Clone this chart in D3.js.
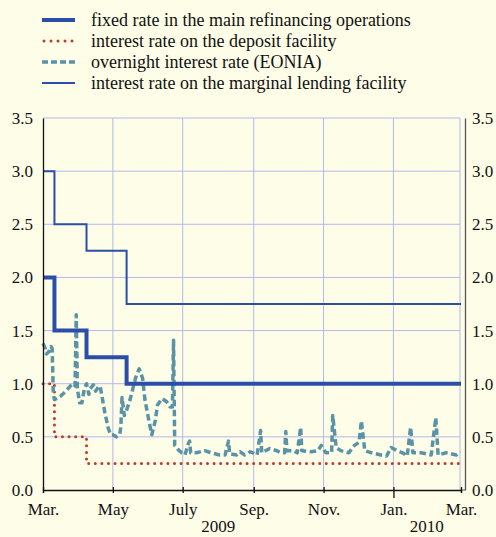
<!DOCTYPE html>
<html>
<head>
<meta charset="utf-8">
<script src="https://cdn.jsdelivr.net/npm/d3@7"></script>
</head>
<body style="margin:0;background:#fefde8">
<svg id="chart" width="496" height="537" style="display:block"></svg>
<script>
// ---------- data ----------
const seriesNames = [
  "fixed rate in the main refinancing operations",
  "interest rate on the deposit facility",
  "overnight interest rate (EONIA)",
  "interest rate on the marginal lending facility"
];

// policy-rate step changes (value holds from date until next date)
const stepDates = ["2009-03-01", "2009-03-11", "2009-04-08", "2009-05-13", "2010-03-01"];
const mroRates      = [2.00, 1.50, 1.25, 1.00, 1.00];
const depositRates  = [1.00, 0.50, 0.25, 0.25, 0.25];
const lendingRates  = [3.00, 2.50, 2.25, 1.75, 1.75];

// EONIA
const eoniaDates = [
  "2009-03-01","2009-03-03","2009-03-04","2009-03-06","2009-03-08","2009-03-09","2009-03-10","2009-03-11",
  "2009-03-16","2009-03-21","2009-03-25","2009-03-28","2009-03-29","2009-03-30","2009-03-31","2009-04-02",
  "2009-04-04","2009-04-06","2009-04-08","2009-04-10","2009-04-11","2009-04-14","2009-04-16","2009-04-19",
  "2009-04-20","2009-04-22","2009-04-24","2009-04-27","2009-04-29","2009-05-01","2009-05-04","2009-05-07",
  "2009-05-08","2009-05-09","2009-05-11","2009-05-13","2009-05-16","2009-05-21","2009-05-24","2009-05-27",
  "2009-05-29","2009-06-01","2009-06-04","2009-06-07","2009-06-09","2009-06-13","2009-06-17","2009-06-20",
  "2009-06-22","2009-06-23","2009-06-24","2009-06-27","2009-06-30","2009-07-03","2009-07-06","2009-07-07",
  "2009-07-08","2009-07-13","2009-07-20","2009-07-26","2009-08-02","2009-08-07","2009-08-10","2009-08-11",
  "2009-08-17","2009-08-20","2009-08-24","2009-08-29","2009-09-04","2009-09-07","2009-09-08","2009-09-15",
  "2009-09-21","2009-09-25","2009-09-28","2009-09-29","2009-09-30","2009-10-06","2009-10-09","2009-10-12",
  "2009-10-13","2009-10-21","2009-10-27","2009-10-30","2009-11-03","2009-11-08","2009-11-09","2009-11-12",
  "2009-11-16","2009-11-23","2009-11-28","2009-12-02","2009-12-04","2009-12-07","2009-12-13","2009-12-21",
  "2009-12-26","2009-12-30","2010-01-04","2010-01-09","2010-01-13","2010-01-16","2010-01-18","2010-01-25",
  "2010-02-03","2010-02-07","2010-02-09","2010-02-16","2010-02-25","2010-02-28"
];
const eoniaValues = [
  1.38,1.33,1.28,1.30,1.35,1.33,0.90,0.85,
  0.88,0.93,0.98,1.00,0.98,1.65,0.95,0.82,
  0.82,0.95,1.00,0.90,0.95,0.99,0.93,0.98,
  0.97,0.85,0.73,0.58,0.52,0.52,0.50,0.52,
  0.60,0.87,0.70,0.75,0.85,1.06,1.14,1.05,
  0.85,0.68,0.52,0.65,0.80,0.86,0.83,0.78,
  0.78,1.41,0.42,0.38,0.35,0.33,0.44,0.46,
  0.35,0.35,0.37,0.35,0.33,0.33,0.46,0.34,
  0.33,0.36,0.33,0.36,0.33,0.56,0.35,0.39,
  0.37,0.35,0.35,0.55,0.37,0.37,0.35,0.59,
  0.37,0.36,0.37,0.42,0.35,0.35,0.70,0.40,
  0.37,0.35,0.42,0.45,0.65,0.37,0.35,0.33,
  0.32,0.40,0.37,0.35,0.32,0.59,0.35,0.35,
  0.33,0.68,0.33,0.35,0.33,0.36
];

const yTicks = [0, 0.5, 1.0, 1.5, 2.0, 2.5, 3.0, 3.5];
const xTickDates = ["2009-03-01","2009-05-01","2009-07-01","2009-09-01","2009-11-01","2010-01-01","2010-03-01"];
const xTickLabels = ["Mar.","May","July","Sep.","Nov.","Jan.","Mar."];
const yearLabels = ["2009", "2010"];
const yearLabelDates = ["2009-08-01", "2010-01-30"];

// ---------- setup ----------
const parse = d3.timeParse("%Y-%m-%d");
const svg = d3.select("#chart");
const W = 496, H = 537;
const mLeft = 43, mRight = 461, mTop = 118, mBottom = 490;
const blue = "#2b4fa8", red = "#c0392b", teal = "#5b93a6", grid = "#b4b8ec";
const serifText = (sel, size = 17) => sel.attr("font-family", "Liberation Serif").attr("font-size", size).attr("fill", "#111");

svg.append("rect").attr("width", W).attr("height", H).attr("fill", "#fefde8");

const x = d3.scaleTime().domain([parse("2009-03-01"), parse("2010-03-01")]).range([mLeft, mRight]);
const y = d3.scaleLinear().domain([0, 3.5]).range([mBottom, mTop]);

// gridlines
const gG = svg.append("g");
gG.selectAll("line.h").data(yTicks.filter(d => d > 0)).join("line")
  .attr("class", "h")
  .attr("x1", mLeft).attr("x2", mRight - 1)
  .attr("y1", d => y(d)).attr("y2", d => y(d))
  .attr("stroke", grid).attr("stroke-width", 1);
gG.selectAll("line.v").data(xTickDates.slice(1)).join("line")
  .attr("class", "v")
  .attr("x1", d => x(parse(d)) - (d === "2010-03-01" ? 1 : 0))
  .attr("x2", d => x(parse(d)) - (d === "2010-03-01" ? 1 : 0))
  .attr("y1", mTop).attr("y2", mBottom)
  .attr("stroke", grid).attr("stroke-width", 1);

// ---------- lines ----------
const stepData = vals => stepDates.map((d, i) => ({ date: parse(d), v: vals[i] }));
const stepLine = d3.line().x(d => x(d.date)).y(d => y(d.v)).curve(d3.curveStepAfter);
const plainLine = d3.line().x(d => x(d.date)).y(d => y(d.v));

svg.append("path").datum(stepData(lendingRates)).attr("d", stepLine)
  .attr("fill", "none").attr("stroke", blue).attr("stroke-width", 2);

svg.append("path").datum(stepData(depositRates)).attr("d", stepLine)
  .attr("fill", "none").attr("stroke", red).attr("stroke-width", 3)
  .attr("stroke-linecap", "round").attr("stroke-dasharray", "0 6.6");

const eonia = eoniaDates.map((d, i) => ({ date: parse(d), v: eoniaValues[i] }));
svg.append("path").datum(eonia).attr("d", plainLine)
  .attr("fill", "none").attr("stroke", teal).attr("stroke-width", 3.5)
  .attr("stroke-dasharray", "6.5 3.5").attr("stroke-linejoin", "round");

svg.append("path").datum(stepData(mroRates)).attr("d", stepLine)
  .attr("fill", "none").attr("stroke", blue).attr("stroke-width", 4);

// ---------- axes ----------
const fmt = d3.format(".1f");
const leftAxis = svg.append("g").attr("transform", `translate(${mLeft},0)`)
  .call(d3.axisLeft(y).tickValues(yTicks).tickFormat(fmt).tickSize(0).tickPadding(10));
const rightAxis = svg.append("g").attr("transform", `translate(465,0)`)
  .call(d3.axisRight(y).tickValues(yTicks).tickFormat(fmt).tickSize(0).tickPadding(7));
[leftAxis, rightAxis].forEach(g => {
  g.attr("font-family", null).attr("font-size", null);
  g.select(".domain").attr("stroke", "#111").attr("stroke-width", 1.3);
  g.selectAll("text").call(serifText);
});
rightAxis.select(".domain").attr("stroke", "#555");
rightAxis.append("line").attr("x1", -3).attr("x2", 0).attr("y1", mBottom).attr("y2", mBottom).attr("stroke", "#555");

const bottomAxis = svg.append("g").attr("transform", `translate(0,${mBottom})`)
  .call(d3.axisBottom(x).tickValues(xTickDates.map(parse))
    .tickFormat((d, i) => xTickLabels[i]).tickSizeOuter(0).tickSize(3));
bottomAxis.attr("font-family", null).attr("font-size", null);
bottomAxis.select(".domain").attr("stroke", "#111").attr("stroke-width", 1.3);
bottomAxis.selectAll(".tick line").attr("y1", -3)
  .attr("y2", (d, i) => xTickLabels[i] === "Jan." ? 8 : 3).attr("stroke", "#111").attr("stroke-width", 1.3);
bottomAxis.selectAll(".tick text").attr("y", 25).attr("dy", 0).call(serifText);

svg.append("g").selectAll("text").data(yearLabels).join("text")
  .attr("x", (d, i) => x(parse(yearLabelDates[i])))
  .attr("y", 532).attr("text-anchor", "middle")
  .call(serifText)
  .text(d => d);

// ---------- legend ----------
const legendStyles = [
  { stroke: blue, width: 4, dash: null, cap: "butt" },
  { stroke: red, width: 3, dash: "0 7", cap: "round" },
  { stroke: teal, width: 3.5, dash: "6 3", cap: "butt" },
  { stroke: blue, width: 2, dash: null, cap: "butt" }
];
const lg = svg.append("g");
seriesNames.forEach((name, i) => {
  const ly = 20 + i * 21;
  const st = legendStyles[i];
  lg.append("line").attr("x1", i === 1 ? 44 : 42).attr("x2", 75).attr("y1", ly).attr("y2", ly)
    .attr("stroke", st.stroke).attr("stroke-width", st.width)
    .attr("stroke-dasharray", st.dash).attr("stroke-linecap", st.cap);
  lg.append("text").attr("x", 91).attr("y", ly + 6).call(serifText, 18).text(name);
});
</script>
</body>
</html>
